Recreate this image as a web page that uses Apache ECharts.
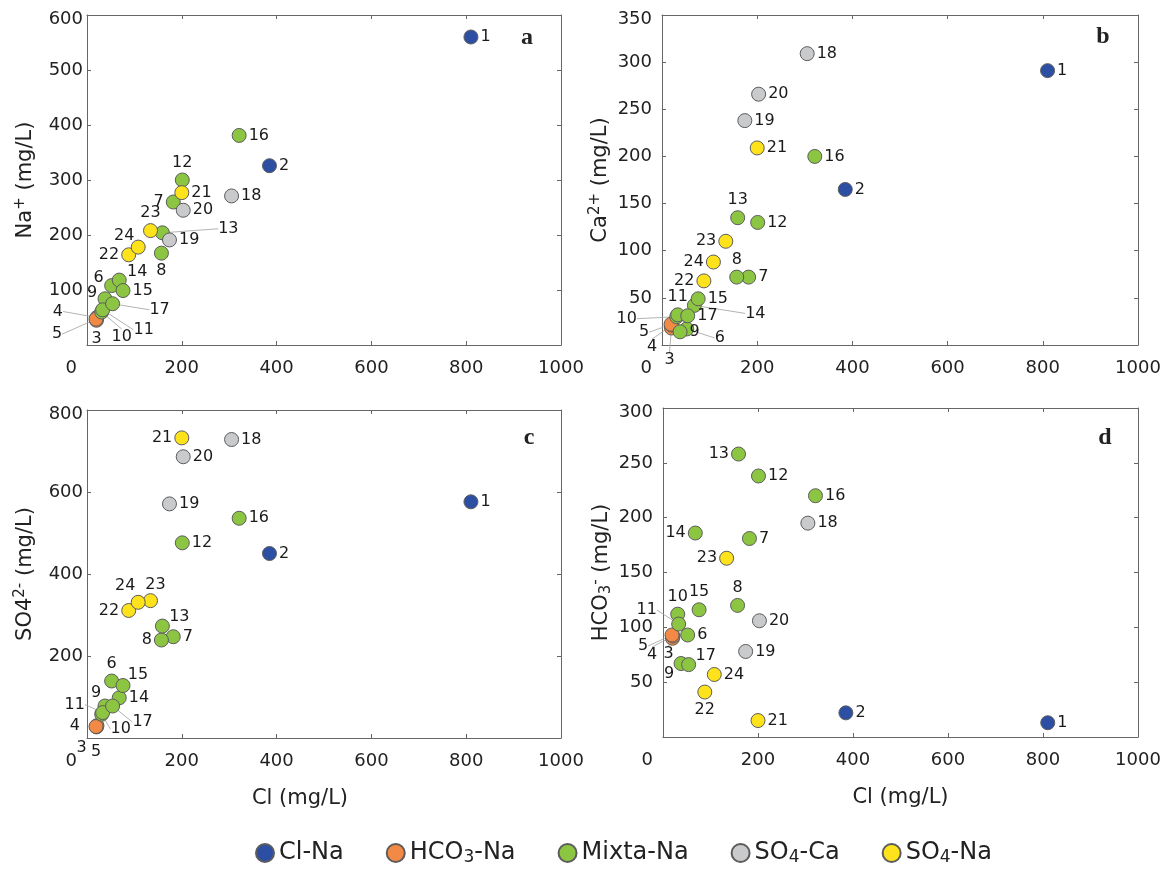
<!DOCTYPE html>
<html><head><meta charset="utf-8">
<script src="https://cdn.jsdelivr.net/npm/echarts@6/dist/echarts.min.js"></script>
<style>html,body{margin:0;padding:0;background:#fff}#c{width:1167px;height:870px}</style>
</head><body><div id="c"></div>
<script>
// ---- data ----
const sampleIds = [1,2,3,4,5,6,7,8,9,10,11,12,13,14,15,16,17,18,19,20,21,22,23,24];
const sampleType = ['Cl-Na','Cl-Na','HCO3-Na','HCO3-Na','HCO3-Na',
  'Mixta-Na','Mixta-Na','Mixta-Na','Mixta-Na','Mixta-Na','Mixta-Na','Mixta-Na','Mixta-Na','Mixta-Na','Mixta-Na','Mixta-Na','Mixta-Na',
  'SO4-Ca','SO4-Ca','SO4-Ca','SO4-Na','SO4-Na','SO4-Na','SO4-Na'];
const cl   = [810,385,20,21,19,52,182,157,38,31,33,201,159,68,76,321,54,305,174,203,200,88,134,108];
const na   = [560,326,45,50,47,108,260,167,84,60,64,300,204,118,99,381,75,271,191,245,277,164,208,178];
const ca   = [291,165,18,21,22,17,72,72,14,30,32,130,135,42,49,200,31,309,238,266,209,68,110,88];
const so4  = [576,450,27,30,28,139,247,239,78,58,62,476,273,98,128,536,78,728,571,686,732,311,335,331];
const hco3 = [13,22,90,92,93,93,181,120,67,112,103,238,258,186,116,220,66,195,78,106,15,41,163,57];
const typeNames = ['Cl-Na','HCO3-Na','Mixta-Na','SO4-Ca','SO4-Na'];

// ---- styles / layout ----
const colors = ['#2d4fa3','#f28a45','#8cc541','#c9cacc','#fde21c'];
const FONT = 'DejaVu Sans';
const panels = [
  {letter:'a', y:na,   yMax:600, yInt:100, yName:'Na{sup|+} (mg/L)',      xName:'',          grid:{left:87, top:15,  width:474, height:330}, lm:4,  lx:527,  ly:38},
  {letter:'b', y:ca,   yMax:350, yInt:50,  yName:'Ca{sup|2+} (mg/L)',     xName:'',          grid:{left:662,top:15,  width:476, height:330}, lm:10, lx:1103, ly:37},
  {letter:'c', y:so4,  yMax:800, yInt:200, yName:'SO4{sup|2-} (mg/L)',    xName:'Cl (mg/L)', grid:{left:87, top:410, width:474, height:328}, lm:4,  lx:529,  ly:438},
  {letter:'d', y:hco3, yMax:300, yInt:50,  yName:'HCO{sub|3}{sup|-} (mg/L)', xName:'Cl (mg/L)', grid:{left:663,top:408, width:475, height:329}, lm:10, lx:1105, ly:438}
];
// label placement: pos = side, off = [dx, dy, leaderLine]
const labelPlace = {
  a:{pos:{7:'left',8:'bottom',12:'top',22:'left',23:'top'},
     off:{6:[-13,-8],9:[-13,-6],14:[18,-8],24:[-14,-11],3:[0,19],
          13:[66,-4,1],17:[47,6,1],11:[41,20,1],10:[20,25,1],4:[-39,-6,1],5:[-39,15,1]}},
  b:{pos:{13:'top',23:'left',24:'left',22:'left',8:'top',11:'top'},
     off:{10:[-50,2,1],14:[61,8,1],6:[33,9,1],5:[-27,8,1],4:[-20,22,1],3:[-2,32,1]}},
  c:{pos:{21:'left',22:'left',8:'left',6:'top'},
     off:{24:[-13,-16],23:[5,-16],13:[17,-9],15:[15,-11],9:[-9,-13],11:[-28,-8,1],17:[30,16,1],10:[19,15,1],4:[-22,0],3:[-15,21],5:[0,25]}},
  d:{pos:{13:'left',14:'left',23:'left',8:'top',15:'top',10:'top',22:'bottom'},
     off:{11:[-32,-14,1],5:[-29,11,1],4:[-21,19,1],3:[-4,16,1],17:[17,-9],9:[-12,10]}}
};

const axisColor = '#666';
const TXT = '#222';
const nameRich = {
  sup:{fontSize:15, color:TXT, fontFamily:FONT, padding:[0,0,11,0]},
  sub:{fontSize:15, color:TXT, fontFamily:FONT, padding:[9,0,0,0]}
};
const grids = [], xAxes = [], yAxes = [], series = [], graphics = [];
panels.forEach((p, pi) => {
  grids.push(Object.assign({containLabel:false}, p.grid));
  const lineStyle = {color:axisColor, width:1};
  xAxes.push({gridIndex:pi, type:'value', min:0, max:1000, interval:200, position:'bottom',
    axisLine:{show:true, onZero:false, lineStyle}, axisTick:{show:true, inside:true, length:4, lineStyle},
    splitLine:{show:false},
    axisLabel:{margin:14, fontSize:18, color:TXT, fontFamily:FONT, alignMinLabel:'right',
      formatter:v => v === 0 ? '{z|0}' : String(v),
      rich:{z:{padding:[0,10,0,0], fontSize:18, color:TXT, fontFamily:FONT}}},
    name:p.xName, nameLocation:'middle', nameGap:50,
    nameTextStyle:{fontSize:21, color:TXT, fontFamily:FONT, padding: p.letter==='c' ? [0,48,0,0] : 0}});
  xAxes.push({gridIndex:pi, type:'value', min:0, max:1000, interval:200, position:'top',
    axisLine:{show:true, onZero:false, lineStyle}, axisTick:{show:true, inside:true, length:4, lineStyle},
    splitLine:{show:false}, axisLabel:{show:false}});
  yAxes.push({gridIndex:pi, type:'value', min:0, max:p.yMax, interval:p.yInt, position:'left',
    axisLine:{show:true, onZero:false, lineStyle}, axisTick:{show:true, inside:true, length:4, lineStyle},
    splitLine:{show:false},
    axisLabel:{margin:p.lm, fontSize:18, color:TXT, fontFamily:FONT, showMinLabel:false,
      formatter:v => v === p.yMax ? '{m|' + v + '}' : String(v),
      rich:{m:{padding:[8,0,0,0], fontSize:18, color:TXT, fontFamily:FONT}}},
    name:p.yName, nameLocation:'middle', nameGap:48, nameRotate:90,
    nameTextStyle:{fontSize:21, color:TXT, fontFamily:FONT, rich:nameRich}});
  yAxes.push({gridIndex:pi, type:'value', min:0, max:p.yMax, interval:p.yInt, position:'right',
    axisLine:{show:true, onZero:false, lineStyle}, axisTick:{show:true, inside:true, length:4, lineStyle},
    splitLine:{show:false}, axisLabel:{show:false}});

  const place = labelPlace[p.letter];
  typeNames.forEach((t, ti) => {
    const idx = sampleIds.map((_, i) => i).filter(i => sampleType[i] === t);
    const ids = idx.map(i => sampleIds[i]);
    series.push({
      type:'scatter', name:t, xAxisIndex:2*pi, yAxisIndex:2*pi,
      symbol:'circle', symbolSize:14,
      itemStyle:{color:colors[ti], borderColor:'#5c5c5c', borderWidth:1, opacity:1},
      label:{show:true, position:'right', distance:2, fontSize:16, color:'#1a1a1a', fontFamily:FONT,
        formatter:q => String(q.value[2])},
      labelLine:{show:false, lineStyle:{color:'#a0a0a0', width:0.8}},
      labelLayout: params => {
        const o = place.off[ids[params.dataIndex]];
        if (!o) return {};
        const r = params.rect;
        return {x:r.x + r.width/2 + o[0], y:r.y + r.height/2 + o[1], align:'center', verticalAlign:'middle'};
      },
      emphasis:{disabled:true},
      data: idx.map(i => {
        const id = sampleIds[i];
        const item = {value:[cl[i], p.y[i], id]};
        if (place.pos[id]) item.label = {position:place.pos[id]};
        if (place.off[id] && place.off[id][2]) item.labelLine = {show:true};
        return item;
      })
    });
  });
  graphics.push({type:'text', x:p.lx, y:p.ly, style:{text:p.letter, font:'bold 24px "Liberation Serif"', fill:TXT, textAlign:'center', textVerticalAlign:'middle'}});
});

const chart = echarts.init(document.getElementById('c'), null, {renderer:'canvas'});
chart.setOption({
  backgroundColor:'#fff',
  animation:false,
  grid:grids, xAxis:xAxes, yAxis:yAxes, series:series,
  graphic:graphics,
  legend:{data:typeNames, left:250, top:836, icon:'circle', itemWidth:18, itemHeight:18, itemGap:42,
    formatter:n => n.replace(/(\d)/, '{sub|$1}'),
    textStyle:{fontSize:24, color:TXT, fontFamily:FONT,
      rich:{sub:{fontSize:17, color:TXT, fontFamily:FONT, padding:[9,0,0,0]}}}}
});
</script></body></html>
